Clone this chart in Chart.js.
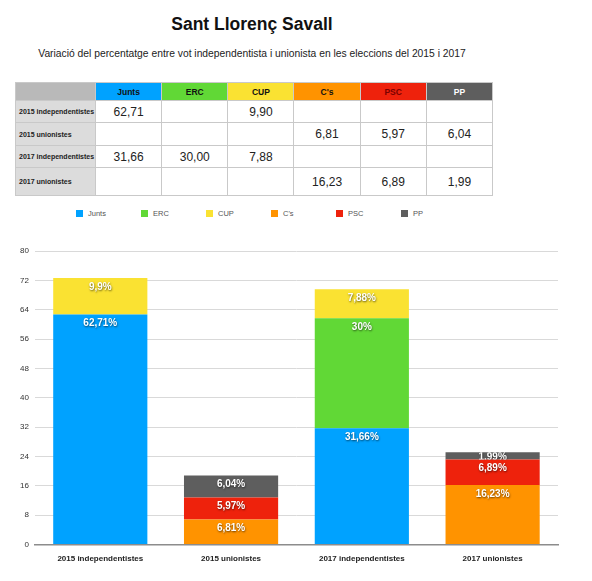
<!DOCTYPE html>
<html lang="ca">
<head>
  <meta charset="UTF-8">
  <title>Sant Llorenç Savall</title>
  <script src="https://cdn.jsdelivr.net/npm/chart.js"></script>
  <style>
    body {
      margin: 0;
      width: 592px;
      height: 581px;
      font-family: "Liberation Sans", Arial, sans-serif;
      background: #fff;
      position: relative;
      overflow: hidden;
    }
    h1 {
      position: absolute;
      top: 14px;
      left: 0;
      width: 504px;
      margin: 0;
      text-align: center;
      font-size: 17.5px;
      font-weight: bold;
      color: #111;
    }
    .sub {
      position: absolute;
      top: 48px;
      left: 0;
      width: 504px;
      text-align: center;
      font-size: 10.3px;
      color: #222;
    }
    table {
      position: absolute;
      top: 82px;
      left: 15px;
      width: 478px;
      border-collapse: collapse;
      table-layout: fixed;
    }
    th, td {
      border: 1px solid #c9c9c9;
      padding: 0;
      text-align: center;
    }
    thead th {
      height: 17px;
      font-size: 8.5px;
      font-weight: bold;
    }
    tbody th {
      background: #dcdcdc;
      font-size: 7px;
      text-align: left;
      padding-left: 3px;
      white-space: nowrap;
      overflow: hidden;
      color: #222;
    }
    tbody td {
      font-size: 12px;
      color: #222;
    }
    #legend {
      position: absolute;
      top: 209px;
      left: 76px;
      display: flex;
      font-size: 7.5px;
      color: #555;
    }
    #legend span.item {
      width: 65px;
      display: flex;
      align-items: center;
    }
    #legend i {
      display: inline-block;
      width: 7px;
      height: 7px;
      margin-right: 5px;
    }
    #wrap {
      position: absolute;
      left: 0;
      top: 240px;
      width: 570px;
      height: 336px;
    }
  </style>
</head>
<body>
  <h1>Sant Llorenç Savall</h1>
  <div class="sub">Variació del percentatge entre vot independentista i unionista en les eleccions del 2015 i 2017</div>

  <table id="taula">
    <colgroup><col style="width:80px"></colgroup>
    <thead><tr><th style="background:#b9b9b9"></th></tr></thead>
    <tbody></tbody>
  </table>

  <div id="legend"></div>

  <div id="wrap"><canvas id="grafic"></canvas></div>

  <script>
    // dades
    const categories = ['2015 independentistes', '2015 unionistes', '2017 independentistes', '2017 unionistes'];
    const partits = ['Junts', 'ERC', 'CUP', "C's", 'PSC', 'PP'];
    const colors = ['#00a2ff', '#61d836', '#fae232', '#ff9300', '#ee220c', '#5e5e5e'];
    const textCap = ['#111', '#111', '#111', '#111', '#7a0000', '#fff'];

    const junts = [62.71, null, 31.66, null];
    const erc = [null, null, 30, null];
    const cup = [9.9, null, 7.88, null];
    const cs = [null, 6.81, null, 16.23];
    const psc = [null, 5.97, null, 6.89];
    const pp = [null, 6.04, null, 1.99];
    const series = [junts, erc, cup, cs, psc, pp];

    const yTicks = [0, 8, 16, 24, 32, 40, 48, 56, 64, 72, 80];

    const coma = v => String(v).replace('.', ',');

    // taula
    const head = document.querySelector('#taula thead tr');
    partits.forEach((p, i) => {
      const th = document.createElement('th');
      th.textContent = p;
      th.style.background = colors[i];
      th.style.color = textCap[i];
      head.appendChild(th);
    });
    const cos = document.querySelector('#taula tbody');
    const alcades = [22, 23, 22, 28];
    categories.forEach((c, r) => {
      const tr = document.createElement('tr');
      tr.style.height = alcades[r] + 'px';
      const th = document.createElement('th');
      th.textContent = c;
      tr.appendChild(th);
      series.forEach(s => {
        const td = document.createElement('td');
        td.textContent = s[r] == null ? '' : coma(s[r].toFixed(2));
        tr.appendChild(td);
      });
      cos.appendChild(tr);
    });

    // llegenda
    const leg = document.getElementById('legend');
    partits.forEach((p, i) => {
      const s = document.createElement('span');
      s.className = 'item';
      s.innerHTML = '<i style="background:' + colors[i] + '"></i>' + p;
      leg.appendChild(s);
    });

    // etiquetes dins les barres (retallades al segment)
    const etiquetes = {
      id: 'etiquetes',
      afterDatasetsDraw(chart) {
        const ctx = chart.ctx;
        chart.data.datasets.forEach((ds, i) => {
          chart.getDatasetMeta(i).data.forEach((bar, j) => {
            const v = ds.data[j];
            if (v == null) return;
            const h = bar.base - bar.y;
            ctx.save();
            ctx.beginPath();
            ctx.rect(bar.x - bar.width / 2, bar.y, bar.width, h);
            ctx.clip();
            ctx.font = 'bold 10px "Liberation Sans", Arial, sans-serif';
            ctx.fillStyle = '#fff';
            ctx.textAlign = 'center';
            ctx.textBaseline = 'middle';
            ctx.shadowColor = 'rgba(0,0,0,0.6)';
            ctx.shadowBlur = 2;
            ctx.shadowOffsetX = 0.5;
            ctx.shadowOffsetY = 1;
            ctx.fillText(coma(v) + '%', bar.x, bar.y + Math.min(9, h / 2 + 1));
            ctx.restore();
          });
        });
      }
    };

    new Chart(document.getElementById('grafic'), {
      type: 'bar',
      data: {
        labels: categories,
        datasets: partits.map((p, i) => ({
          label: p,
          data: series[i],
          backgroundColor: colors[i],
          categoryPercentage: 0.72,
          barPercentage: 1
        }))
      },
      options: {
        responsive: true,
        maintainAspectRatio: false,
        animation: false,
        layout: { padding: { top: 11, left: 14, right: 12, bottom: 10 } },
        plugins: {
          legend: { display: false },
          tooltip: { enabled: false }
        },
        scales: {
          x: {
            stacked: true,
            grid: { display: false },
            border: { color: '#8c8c8c', width: 1.5 },
            ticks: {
              color: '#222',
              font: { size: 8, weight: 'bold', family: '"Liberation Sans", Arial, sans-serif' },
              padding: 2
            }
          },
          y: {
            stacked: true,
            min: 0,
            max: 80,
            afterBuildTicks: axis => { axis.ticks = yTicks.map(v => ({ value: v })); },
            grid: { color: '#d9d9d9', drawTicks: false },
            border: { display: false },
            ticks: {
              color: '#333',
              padding: 6,
              font: { size: 8, family: '"Liberation Sans", Arial, sans-serif' }
            }
          }
        }
      },
      plugins: [etiquetes]
    });
  </script>
</body>
</html>
